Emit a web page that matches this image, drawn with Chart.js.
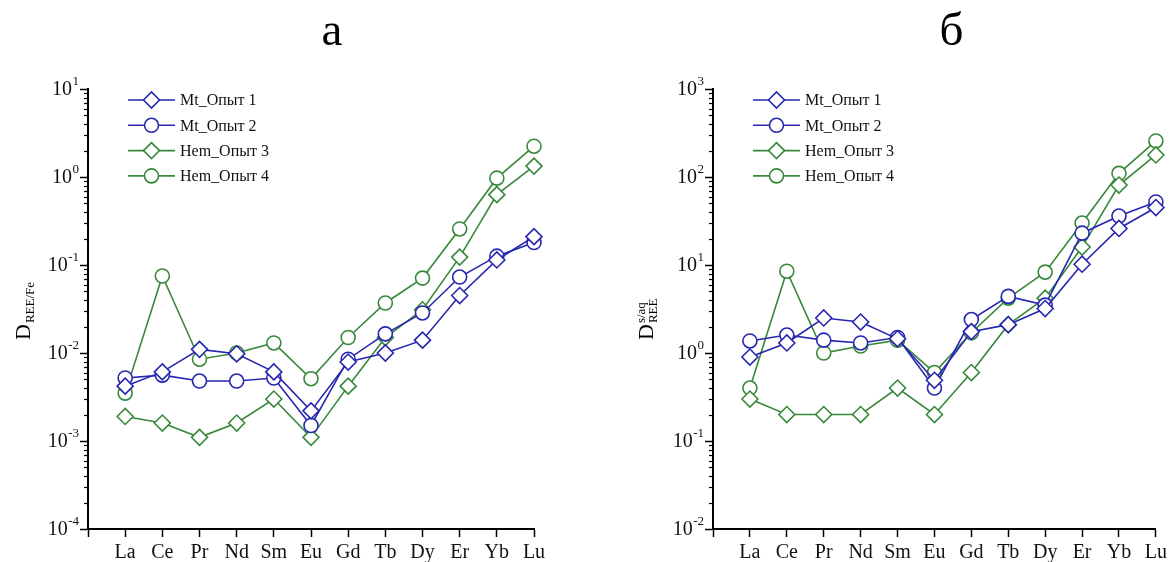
<!DOCTYPE html>
<html>
<head>
<meta charset="utf-8">
<script src="https://cdn.jsdelivr.net/npm/chart.js@4"></script>
<style>
  html, body { margin: 0; padding: 0; background: #fff; }
  #wrap { position: relative; width: 1171px; height: 562px; }
  canvas { position: absolute; top: 0; }
  #chartA { left: 0; }
  #chartB { left: 585px; }
</style>
</head>
<body>
<div id="wrap">
  <canvas id="chartA" width="585" height="562"></canvas>
  <canvas id="chartB" width="586" height="562"></canvas>
</div>
<script>
const elements = ['La', 'Ce', 'Pr', 'Nd', 'Sm', 'Eu', 'Gd', 'Tb', 'Dy', 'Er', 'Yb', 'Lu'];
const seriesNames = ['Mt_Опыт 1', 'Mt_Опыт 2', 'Hem_Опыт 3', 'Hem_Опыт 4'];

// панель а: D REE/Fe
const feMt1 = [0.0042, 0.0061, 0.011, 0.0098, 0.0061, 0.0022, 0.0079, 0.010, 0.014, 0.045, 0.114, 0.21];
const feMt2 = [0.0052, 0.0056, 0.0048, 0.0048, 0.0052, 0.0015, 0.0085, 0.0165, 0.0285, 0.073, 0.126, 0.18];
const feHem3 = [0.0019, 0.0016, 0.0011, 0.0016, 0.0030, 0.0011, 0.0042, 0.015, 0.031, 0.123, 0.63, 1.33];
const feHem4 = [0.0035, 0.075, 0.0085, 0.010, 0.013, 0.0051, 0.015, 0.037, 0.071, 0.257, 0.97, 2.24];

// панель б: D s/aq REE
const aqMt1 = [0.9, 1.3, 2.5, 2.25, 1.45, 0.49, 1.75, 2.1, 3.2, 10.2, 26, 45];
const aqMt2 = [1.37, 1.6, 1.4, 1.3, 1.5, 0.4, 2.4, 4.4, 3.5, 23, 36, 52];
const aqHem3 = [0.3, 0.2, 0.2, 0.2, 0.4, 0.2, 0.6, 2.1, 4.2, 16, 81, 178];
const aqHem4 = [0.4, 8.5, 1.0, 1.2, 1.4, 0.6, 1.7, 4.2, 8.3, 30, 110, 257];

const SERIF = '"Liberation Serif", "Times New Roman", serif';
const BLUE = '#2626b0';
const GREEN = '#38883a';

Chart.defaults.font.family = SERIF;
Chart.defaults.color = '#111';

function makeDataset(label, values, color, shape) {
  return {
    label: label,
    data: values.map((v, i) => ({ x: i + 1, y: v })),
    borderColor: color,
    backgroundColor: '#fff',
    pointBackgroundColor: '#fff',
    pointBorderColor: color,
    pointStyle: shape,
    pointRadius: shape === 'circle' ? 7 : 8,
    pointBorderWidth: 1.6,
    borderWidth: 1.6,
    tension: 0,
    clip: false
  };
}

// подписи 10^n, минорные деления, легенда, заголовки
const decorPlugin = {
  id: 'decor',
  afterDraw(chart, args, opts) {
    const ctx = chart.ctx;
    const area = chart.chartArea;
    const ys = chart.scales.y;
    ctx.save();

    // minor ticks on log axis
    ctx.strokeStyle = '#000';
    ctx.lineWidth = 1.2;
    const lo = Math.round(Math.log10(ys.min));
    const hi = Math.round(Math.log10(ys.max));
    for (let k = lo; k < hi; k++) {
      for (let m = 2; m <= 9; m++) {
        const y = Math.round(ys.getPixelForValue(m * Math.pow(10, k))) + 0.5;
        ctx.beginPath();
        ctx.moveTo(area.left, y);
        ctx.lineTo(area.left - 4, y);
        ctx.stroke();
      }
    }

    // tick labels 10 with superscript exponent
    ctx.fillStyle = '#111';
    ctx.textBaseline = 'middle';
    ys.ticks.forEach(t => {
      const e = String(Math.round(Math.log10(t.value)));
      const y = ys.getPixelForValue(t.value);
      ctx.font = '13px ' + SERIF;
      const ew = ctx.measureText(e).width;
      const right = area.left - 9;
      ctx.textAlign = 'left';
      ctx.fillText(e, right - ew, y - 7);
      ctx.font = '20px ' + SERIF;
      ctx.textAlign = 'right';
      ctx.fillText('10', right - ew - 0.5, y + 1);
    });

    // panel title
    ctx.fillStyle = '#000';
    ctx.font = '47px ' + SERIF;
    ctx.textAlign = 'center';
    ctx.textBaseline = 'alphabetic';
    ctx.fillText(opts.title, (area.left + area.right) / 2 + opts.titleShift, 45);

    // axis title, rotated
    ctx.save();
    ctx.translate(opts.yTitleX, 340);
    ctx.rotate(-Math.PI / 2);
    ctx.textAlign = 'left';
    ctx.font = '22px ' + SERIF;
    ctx.fillText('D', 0, 0);
    const w = ctx.measureText('D').width;
    ctx.font = '13px ' + SERIF;
    ctx.fillText(opts.sub, w + 1, 4);
    if (opts.sup) ctx.fillText(opts.sup, w + 1, -8);
    ctx.restore();

    // legend
    ctx.font = '16px ' + SERIF;
    ctx.textAlign = 'left';
    ctx.textBaseline = 'middle';
    chart.data.datasets.forEach((ds, i) => {
      const x0 = area.left + 40;
      const y = area.top + 11 + i * 25.3;
      ctx.strokeStyle = ds.borderColor;
      ctx.lineWidth = ds.borderWidth;
      ctx.beginPath();
      ctx.moveTo(x0, y);
      ctx.lineTo(x0 + 47, y);
      ctx.stroke();
      ctx.fillStyle = '#fff';
      ctx.lineWidth = ds.pointBorderWidth;
      Chart.helpers.drawPoint(ctx, {
        pointStyle: ds.pointStyle,
        radius: ds.pointRadius,
        rotation: 0,
        borderWidth: ds.pointBorderWidth
      }, x0 + 23.5, y);
      ctx.fillStyle = '#111';
      ctx.fillText(ds.label, x0 + 52, y + 1);
    });

    ctx.restore();
  }
};

function buildChart(canvasId, series, yMin, yMax, padLeft, padRight, decor) {
  const colors = [BLUE, BLUE, GREEN, GREEN];
  const shapes = ['rectRot', 'circle', 'rectRot', 'circle'];
  return new Chart(document.getElementById(canvasId), {
    type: 'line',
    data: {
      datasets: series.map((vals, i) => makeDataset(seriesNames[i], vals, colors[i], shapes[i]))
    },
    plugins: [decorPlugin],
    options: {
      responsive: false,
      animation: false,
      layout: { padding: { left: padLeft, right: padRight, top: 89, bottom: 0 } },
      plugins: {
        legend: { display: false },
        tooltip: { enabled: false },
        decor: decor
      },
      scales: {
        x: {
          type: 'linear',
          min: 0,
          max: 12,
          afterBuildTicks: s => { s.ticks = elements.map((e, i) => ({ value: i + 1 })); s.ticks.unshift({ value: 0 }); },
          afterFit: s => { s.height = 33; },
          border: { display: true, color: '#000', width: 2 },
          grid: { drawOnChartArea: false, drawTicks: true, tickLength: 8, tickColor: '#000', tickWidth: 1.5 },
          ticks: {
            font: { size: 20 },
            color: '#111',
            padding: 4,
            maxRotation: 0,
            autoSkip: false,
            callback: v => (v >= 1 ? elements[v - 1] : '')
          }
        },
        y: {
          type: 'logarithmic',
          min: yMin,
          max: yMax,
          afterBuildTicks: s => {
            const t = [];
            for (let e = Math.round(Math.log10(yMin)); e <= Math.round(Math.log10(yMax)); e++) t.push({ value: Math.pow(10, e) });
            s.ticks = t;
          },
          afterFit: s => { s.width = 88; },
          border: { display: true, color: '#000', width: 2 },
          grid: { drawOnChartArea: false, drawTicks: true, tickLength: 8, tickColor: '#000', tickWidth: 1.5 },
          ticks: {
            font: { size: 20 },
            color: 'rgba(0,0,0,0)',
            padding: 4,
            autoSkip: false,
            callback: v => '10^' + Math.round(Math.log10(v))
          }
        }
      }
    }
  });
}

buildChart('chartA', [feMt1, feMt2, feHem3, feHem4], 1e-4, 10, 0, 51,
  { title: 'а', titleShift: 21, yTitleX: 30, sub: 'REE/Fe', sup: '' });
buildChart('chartB', [aqMt1, aqMt2, aqHem3, aqHem4], 1e-2, 1e3, 40, 12,
  { title: 'б', titleShift: 17, yTitleX: 68, sub: 'REE', sup: 's/aq' });
</script>
</body>
</html>
